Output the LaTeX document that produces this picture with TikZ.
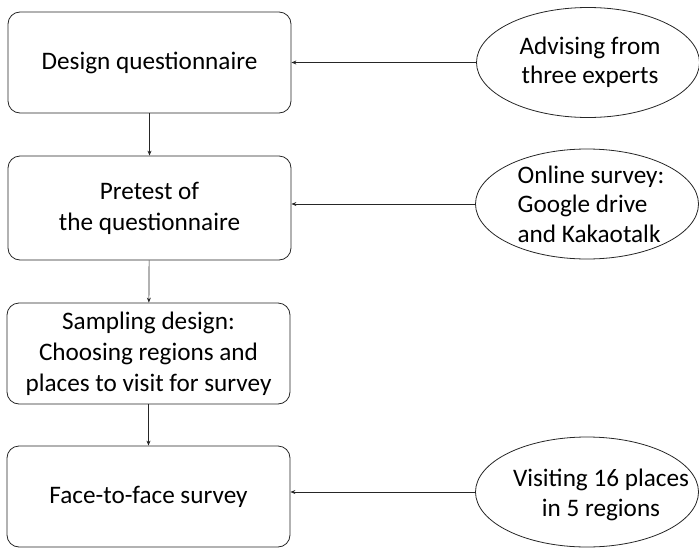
\documentclass[tikz,border=0pt]{standalone}
\usepackage{fontspec}
\setmainfont{Carlito}
\usetikzlibrary{shapes.geometric,arrows.meta}

\begin{document}
\begin{tikzpicture}[
    x=1pt, y=-1pt,
    stepbox/.style={rectangle, draw=black!85, line width=0.8pt, rounded corners=12pt, minimum width=283pt, align=center, font=\fontsize{25.2}{31}\selectfont},
    source/.style={ellipse, draw=black!85, line width=0.8pt, minimum width=223pt, minimum height=110pt, inner sep=0pt},
    srctext/.style={font=\fontsize{25.2}{29.5}\selectfont, inner sep=0pt},
    flow/.style={-{Stealth[length=5pt,width=4pt]}, line width=0.7pt, black!85}
]
    \useasboundingbox (0,0) rectangle (699,549);

    % Steps
    \node[stepbox, minimum height=101pt] (design) at (149.5, 62.5) {Design questionnaire};
    \node[stepbox, minimum height=104pt] (pretest) at (149.5, 208) {Pretest of\\the questionnaire};
    \node[stepbox, minimum height=101pt] (sampling) at (148.5, 353.5) {Sampling design:\\Choosing regions and\\places to visit for survey};
    \node[stepbox, minimum height=101pt] (survey) at (148.5, 496.5) {Face-to-face survey};

    % Sources
    \node[source, label={[srctext, align=center, xshift=2pt]center:Advising from\\three experts}] (experts) at (588, 62.5) {};
    \node[source, label={[srctext, align=left, xshift=4pt]center:Online survey:\\Google drive\\and Kakaotalk}] (online) at (587, 204) {};
    \node[source, label={[srctext, align=center, xshift=14pt, yshift=-3pt]center:Visiting 16 places\\in 5 regions}] (visiting) at (587, 492) {};

    % Down the steps
    \draw[flow] (design) -- (pretest);
    \draw[flow] (pretest) -- (sampling);
    \draw[flow] (sampling) -- (survey);

    % Into the steps
    \draw[flow] (experts.west) -- (experts.west -| design.east);
    \draw[flow] (online.west) -- (online.west -| pretest.east);
    \draw[flow] (visiting.west) -- (visiting.west -| survey.east);
\end{tikzpicture}
\end{document}
